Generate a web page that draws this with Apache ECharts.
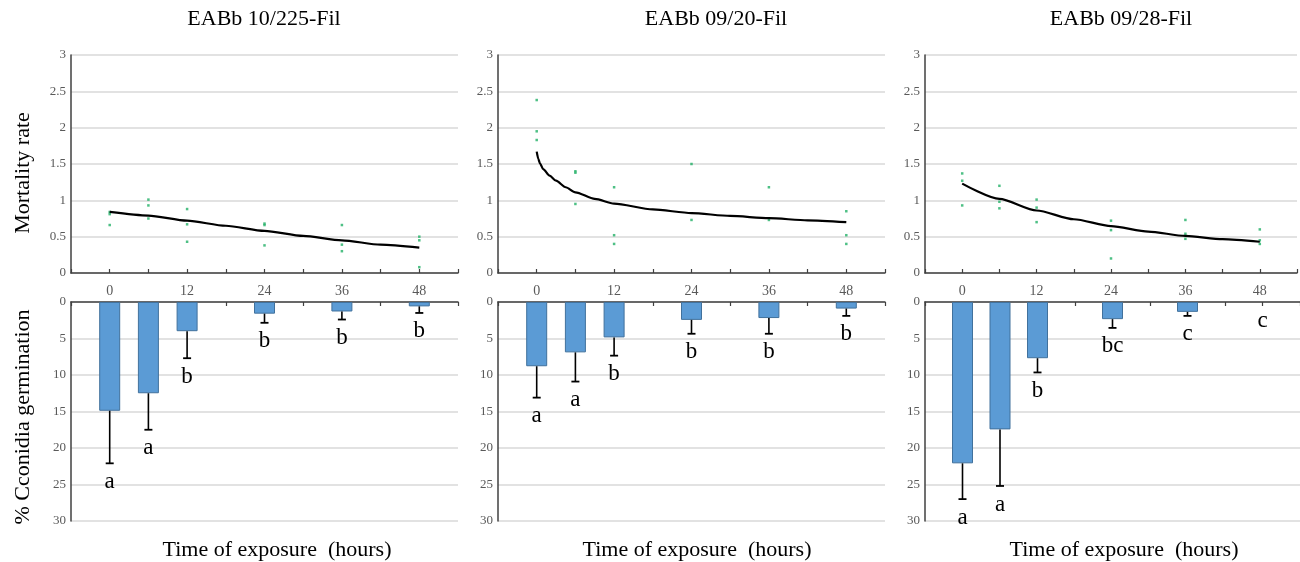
<!DOCTYPE html>
<html><head><meta charset="utf-8">
<script src="https://cdn.jsdelivr.net/npm/echarts@6/dist/echarts.min.js"></script>
<style>html,body{margin:0;padding:0;background:#fff}#c{width:1300px;height:562px}</style>
</head><body><div id="c"></div><script>
// ---------- data ----------
const panelTitles = ['EABb 10/225-Fil', 'EABb 09/20-Fil', 'EABb 09/28-Fil'];
const hours = [0, 6, 12, 24, 36, 48];
const xTickLabels = [0, 12, 24, 36, 48];

// mortality rate replicate points [hour, value]
const mort1 = [[0,0.84],[0,0.81],[0,0.66],[6,1.01],[6,0.93],[6,0.75],[12,0.88],[12,0.67],[12,0.43],
  [24,0.68],[24,0.66],[24,0.38],[36,0.66],[36,0.39],[36,0.30],[48,0.50],[48,0.45],[48,0.08]];
const mort2 = [[0,2.38],[0,1.95],[0,1.83],[6,1.40],[6,1.38],[6,0.95],[12,1.18],[12,0.52],[12,0.40],
  [24,1.50],[24,0.73],[36,1.18],[36,0.73],[48,0.85],[48,0.52],[48,0.40]];
const mort3 = [[0,1.37],[0,1.27],[0,0.93],[6,1.20],[6,0.98],[6,0.89],[12,1.01],[12,0.90],[12,0.70],
  [24,0.72],[24,0.59],[24,0.20],[36,0.73],[36,0.54],[36,0.47],[48,0.60],[48,0.45],[48,0.40]];

// fitted trend lines [hour, value]
const trend1 = [[0,0.84],[6,0.79],[12,0.72],[18,0.65],[24,0.58],[30,0.51],[36,0.45],[42,0.39],[48,0.35]];
const trend2 = [[0,1.67],[0.25,1.57],[0.5,1.51],[1,1.43],[2,1.34],[3,1.27],[4.5,1.18],[6,1.11],[9,1.02],
  [12,0.955],[18,0.875],[24,0.825],[30,0.785],[36,0.755],[42,0.725],[48,0.70]];
const trend3 = [[0,1.23],[6,1.02],[12,0.86],[18,0.74],[24,0.645],[30,0.57],[36,0.51],[42,0.465],[48,0.43]];

// % conidia germination (mean, sd, letters)
const germ1 = [14.9, 12.5, 4.0, 1.6, 1.3, 0.6];
const sd1   = [7.2, 5.0, 3.7, 1.25, 1.1, 0.9];
const let1  = ['a','a','b','b','b','b'];
const germ2 = [8.8, 6.9, 4.85, 2.45, 2.2, 0.9];
const sd2   = [4.3, 4.0, 2.5, 1.9, 2.15, 1.0];
const let2  = ['a','a','b','b','b','b'];
const germ3 = [22.1, 17.45, 7.7, 2.35, 1.35, 0];
const sd3   = [4.9, 7.75, 1.95, 1.2, 0.55, 0];
const let3  = ['a','a','b','bc','c','c'];

const mortAll = [mort1, mort2, mort3];
const trendAll = [trend1, trend2, trend3];
const germAll = [germ1, germ2, germ3];
const sdAll = [sd1, sd2, sd3];
const letAll = [let1, let2, let3];

// ---------- layout / style ----------
const SERIF = "'Liberation Serif', 'Times New Roman', serif";
const lefts = [71, 498, 925];
const W = 387;
const axisCol = '#404040';
const labCol = '#595959';
const gridCol = '#d9d9d9';

const grid = [], xAxis = [], yAxis = [], series = [];
for (let i = 0; i < 3; i++) {
  grid.push({left: lefts[i], top: 55, width: W, height: 218});
  grid.push({left: lefts[i], top: 302, width: W, height: 219});
  // top x
  xAxis.push({gridIndex: 2*i, type: 'value', min: -6, max: 54, interval: 6,
    axisLine: {onZero: false, lineStyle: {color: axisCol, width: 1.5}},
    axisTick: {inside: true, length: 4, lineStyle: {color: axisCol, width: 1.2}},
    axisLabel: {color: labCol, fontFamily: SERIF, fontSize: 14, margin: 11,
      showMinLabel: true, showMaxLabel: true,
      formatter: v => xTickLabels.indexOf(v) >= 0 ? String(v) : ''},
    splitLine: {show: false}});
  // bottom x
  xAxis.push({gridIndex: 2*i+1, type: 'value', position: 'top', min: -6, max: 54, interval: 6,
    axisLine: {onZero: false, lineStyle: {color: axisCol, width: 1.5}},
    axisTick: {inside: true, length: 4, lineStyle: {color: axisCol, width: 1.2}},
    axisLabel: {show: false}, splitLine: {show: false}});
  yAxis.push({gridIndex: 2*i, type: 'value', min: 0, max: 3, interval: 0.5,
    axisLine: {show: true, onZero: false, lineStyle: {color: axisCol, width: 1.5}},
    axisTick: {show: false},
    axisLabel: {color: labCol, fontFamily: SERIF, fontSize: 13, margin: 5, padding: [8,0,0,0]},
    splitLine: {lineStyle: {color: gridCol, width: 1.5}}});
  yAxis.push({gridIndex: 2*i+1, type: 'value', min: 0, max: 30, interval: 5, inverse: true,
    axisLine: {show: true, onZero: false, lineStyle: {color: axisCol, width: 1.5}},
    axisTick: {show: false},
    axisLabel: {color: labCol, fontFamily: SERIF, fontSize: 13, margin: 5, padding: [8,0,0,0]},
    splitLine: {lineStyle: {color: gridCol, width: 1.5}}});

  series.push({type: 'scatter', xAxisIndex: 2*i, yAxisIndex: 2*i, data: mortAll[i],
    symbol: 'rect', symbolSize: 2.5, itemStyle: {color: '#22B066'}, silent: true});
  series.push({type: 'line', xAxisIndex: 2*i, yAxisIndex: 2*i, data: trendAll[i],
    smooth: 0.25, smoothMonotone: 'x', symbol: 'none', lineStyle: {color: '#000', width: 2.2}, silent: true, z: 3});
  series.push({type: 'bar', xAxisIndex: 2*i+1, yAxisIndex: 2*i+1, barWidth: 21,
    data: hours.map((h, j) => [h, germAll[i][j] > 0 ? germAll[i][j] : '-']),
    itemStyle: {color: '#5B9BD5', borderColor: '#41719C', borderWidth: 1}, silent: true});
  const letters = letAll[i];
  series.push({type: 'custom', xAxisIndex: 2*i+1, yAxisIndex: 2*i+1, clip: false, z: 4, silent: true,
    encode: {x: 0, y: [1, 2]},
    data: hours.map((h, j) => [h, germAll[i][j], germAll[i][j] + sdAll[i][j]]),
    renderItem: function (params, api) {
      const x = api.value(0), m = api.value(1), e = api.value(2);
      const p0 = api.coord([x, m]), p1 = api.coord([x, e]);
      const ch = [];
      if (e > m) {
        ch.push({type: 'line', shape: {x1: p0[0], y1: p0[1], x2: p1[0], y2: p1[1]},
          style: {stroke: '#000', lineWidth: 1.6}});
        ch.push({type: 'line', shape: {x1: p1[0]-4, y1: p1[1], x2: p1[0]+4, y2: p1[1]},
          style: {stroke: '#000', lineWidth: 1.8}});
      }
      ch.push({type: 'text', style: {text: letters[params.dataIndex], x: p1[0], y: p1[1] + 7,
        align: 'center', verticalAlign: 'top', fontFamily: SERIF, fontSize: 23, fill: '#000'}});
      return {type: 'group', children: ch};
    }});
}

const titleX = [264, 716, 1121];
const xTitleX = [277, 697, 1124];
const graphic = [];
for (let i = 0; i < 3; i++) {
  graphic.push({type: 'text', x: titleX[i], y: 19, style: {text: panelTitles[i], align: 'center',
    verticalAlign: 'middle', fontFamily: SERIF, fontSize: 22, fill: '#000'}});
  graphic.push({type: 'text', x: xTitleX[i], y: 550, style: {text: 'Time of exposure  (hours)', align: 'center',
    verticalAlign: 'middle', fontFamily: SERIF, fontSize: 22, fill: '#000'}});
}
graphic.push({type: 'text', x: 23, y: 173, rotation: Math.PI/2, style: {text: 'Mortality rate', align: 'center',
  verticalAlign: 'middle', fontFamily: SERIF, fontSize: 22, fill: '#000'}});
graphic.push({type: 'text', x: 23, y: 417, rotation: Math.PI/2, style: {text: '% Cconidia germination', align: 'center',
  verticalAlign: 'middle', fontFamily: SERIF, fontSize: 22, fill: '#000'}});

const chart = echarts.init(document.getElementById('c'), null, {renderer: 'canvas'});
chart.setOption({backgroundColor: '#fff', animation: false, grid, xAxis, yAxis, series, graphic});
</script></body></html>
